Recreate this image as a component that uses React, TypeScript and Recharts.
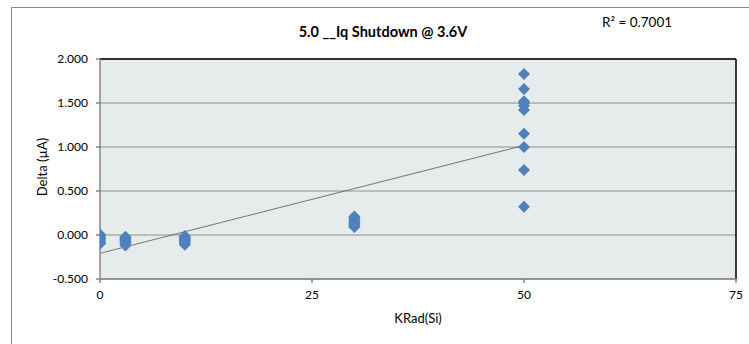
import {
  ScatterChart,
  Scatter,
  XAxis,
  YAxis,
  CartesianGrid,
  ReferenceLine,
} from "recharts";

// dose levels (KRad(Si)) and the delta readings (µA) at each of them
const DOSES = [0, 3, 10, 30, 50];

const DELTA_0 = [0.005, 0, -0.01, -0.03, -0.04, -0.05, -0.06, -0.08, -0.09, -0.1];
const DELTA_3 = [-0.02, -0.03, -0.04, -0.05, -0.06, -0.07, -0.08, -0.09, -0.1, -0.12];
const DELTA_10 = [-0.01, -0.02, -0.03, -0.04, -0.05, -0.06, -0.07, -0.08, -0.1, -0.11];
const DELTA_30 = [0.21, 0.2, 0.18, 0.16, 0.15, 0.14, 0.13, 0.12, 0.1, 0.09];
const DELTA_50 = [1.83, 1.66, 1.52, 1.5, 1.47, 1.42, 1.15, 1.0, 0.74, 0.32];

const X_TICKS = [0, 25, 50, 75];
const Y_TICKS = [-0.5, 0, 0.5, 1, 1.5, 2];

const TITLE = "5.0 __Iq Shutdown @ 3.6V";
const R2_TEXT = "R² = 0.7001";

const FONT = "Lato, 'Open Sans', sans-serif";
const BLUE = "#4F81BD";
const AXIS_GRAY = "#868686";

const groups = [DELTA_0, DELTA_3, DELTA_10, DELTA_30, DELTA_50];
const points = groups.flatMap((ys, i) =>
  ys.map((y) => ({ x: DOSES[i], y }))
);

// least squares trend line, like Excel's linear trendline
function fitLine(pts: { x: number; y: number }[]) {
  const n = pts.length;
  const mx = pts.reduce((s, p) => s + p.x, 0) / n;
  const my = pts.reduce((s, p) => s + p.y, 0) / n;
  let sxy = 0;
  let sxx = 0;
  pts.forEach((p) => {
    sxy += (p.x - mx) * (p.y - my);
    sxx += (p.x - mx) * (p.x - mx);
  });
  const slope = sxy / sxx;
  return { slope, intercept: my - slope * mx };
}

const fit = fitLine(points);
const xMin = Math.min(...DOSES);
const xMax = Math.max(...DOSES);
const trend = [
  { x: xMin, y: fit.intercept + fit.slope * xMin },
  { x: xMax, y: fit.intercept + fit.slope * xMax },
];

const Diamond = (props: any) => {
  const { cx, cy } = props;
  const r = 6;
  return (
    <path
      d={`M${cx},${cy - r}L${cx + r},${cy}L${cx},${cy + r}L${cx - r},${cy}Z`}
      fill={BLUE}
    />
  );
};

export default function App() {
  return (
    <div
      style={{
        position: "absolute",
        left: 0,
        top: 0,
        width: 749,
        height: 344,
        overflow: "hidden",
        background: "#fff",
      }}
    >
      <div
        style={{
          position: "absolute",
          left: 11,
          top: 7,
          width: 800,
          height: 400,
          borderLeft: "1px solid #8c8c8c",
          borderTop: "1px solid #8c8c8c",
        }}
      />
      <div style={{ position: "absolute", left: 0, top: 0 }}>
        <ScatterChart
          width={749}
          height={344}
          margin={{ top: 59, right: 13, bottom: 0, left: 0 }}
        >
          <CartesianGrid
            horizontal={true}
            vertical={false}
            stroke="#8e8e8e"
            fill="#E6ECEC"
            fillOpacity={1}
          />
          <XAxis
            type="number"
            dataKey="x"
            domain={[0, 75]}
            ticks={X_TICKS}
            height={65}
            stroke={AXIS_GRAY}
            strokeWidth={1.5}
            tickSize={4}
            tickMargin={7}
            tick={{ fill: "#000", fontSize: 12, fontFamily: FONT }}
            allowDataOverflow
          />
          <YAxis
            type="number"
            dataKey="y"
            domain={[-0.5, 2]}
            ticks={Y_TICKS}
            width={100}
            stroke={AXIS_GRAY}
            strokeWidth={1.5}
            tickSize={4}
            tickMargin={8}
            tickFormatter={(v: number) => v.toFixed(3)}
            tick={{ fill: "#000", fontSize: 12, fontFamily: FONT }}
            allowDataOverflow
          />
          <ReferenceLine y={2} stroke="#000" strokeWidth={1.5} />
          <ReferenceLine x={75} stroke="#000" strokeWidth={1.5} />
          <Scatter
            data={points}
            shape={Diamond}
            isAnimationActive={false}
          />
          <ReferenceLine
            segment={trend}
            stroke="#555"
            strokeWidth={0.8}
          />
          <text
            x={383}
            y={37}
            textAnchor="middle"
            fontFamily={FONT}
            fontSize={14.5}
            fontWeight="bold"
            fill="#000"
          >
            {TITLE}
          </text>
          <text x={602} y={27} fontFamily={FONT} fontSize={13.5} fill="#000">
            {R2_TEXT}
          </text>
          <text
            x={418}
            y={323}
            textAnchor="middle"
            fontFamily={FONT}
            fontSize={13}
            fill="#000"
          >
            KRad(Si)
          </text>
          <text
            x={47}
            y={167}
            textAnchor="middle"
            transform="rotate(-90 47 167)"
            fontFamily={FONT}
            fontSize={13}
            fill="#000"
          >
            Delta (µA)
          </text>
        </ScatterChart>
      </div>
    </div>
  );
}
